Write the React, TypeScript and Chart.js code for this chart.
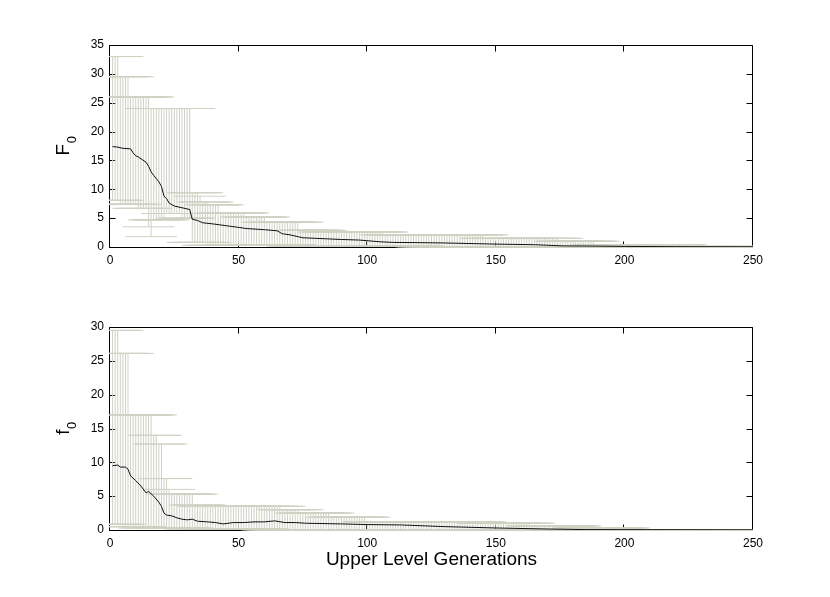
import React, { useEffect, useRef } from 'react';
import { Chart, registerables } from 'chart.js';
Chart.register(...registerables);

const FONT = "'Liberation Sans', Arial, Helvetica, sans-serif";
const GENERATIONS = 250;
const X_TICKS = [0, 50, 100, 150, 200, 250];
const BAR_HALF_WIDTH = 10; // cap half-width in generations
const BAR_COLOR = 'rgb(206,210,195)';

// ---------- Top panel: F0 ----------
const F_Y_TICKS = [0, 5, 10, 15, 20, 25, 30, 35];
const F_MEAN_GEN = [1, 3, 5, 8, 9, 10, 11, 14, 15, 16, 17, 19, 20, 21, 22, 23, 25, 28, 31, 32, 34, 36, 40, 45, 50, 53, 60, 65, 67, 70, 73, 75, 80, 90, 97, 105, 110, 130, 150, 165, 176, 190, 200, 220, 250];
const F_MEAN = [17.4, 17.3, 17.1, 17.0, 16.3, 15.8, 15.6, 14.7, 14.0, 13.0, 12.4, 11.3, 10.5, 8.8, 8.4, 7.6, 7.1, 6.8, 6.5, 4.8, 4.6, 4.2, 4.0, 3.7, 3.4, 3.2, 3.0, 2.8, 2.3, 2.1, 1.8, 1.6, 1.5, 1.3, 1.2, 0.9, 0.8, 0.7, 0.5, 0.4, 0.2, 0.15, 0.1, 0.06, 0.04];
// runs: last generation of each run and its value
const F_MAX_END = [3, 7, 15, 31, 34, 35, 38, 42, 52, 60, 73, 82, 106, 145, 174, 188, 222, 250];
const F_MAX_VAL = [33, 29.5, 26, 24, 9.4, 8.8, 7.8, 7.3, 5.9, 5.2, 4.3, 2.9, 2.6, 2.1, 1.5, 1.0, 0.4, 0.1];
const F_MIN_END = [3, 10, 14, 15, 16, 21, 27, 31, 37, 45, 70, 120, 250];
const F_MIN_VAL = [8.1, 7.4, 6.7, 3.5, 1.8, 4.7, 5.8, 5.0, 0.8, 0.3, 0.4, 0.15, 0.03];

// ---------- Bottom panel: f0 ----------
const f_Y_TICKS = [0, 5, 10, 15, 20, 25, 30];
const f_MEAN_GEN = [1, 3, 4, 6, 7, 8, 10, 12, 14, 15, 17, 19, 20, 21, 22, 24, 26, 28, 30, 32, 34, 38, 41, 44, 48, 52, 56, 60, 64, 68, 72, 76, 90, 100, 113, 130, 150, 170, 185, 250];
const f_MEAN = [9.5, 9.6, 9.3, 9.3, 9.0, 8.0, 7.3, 6.5, 5.5, 5.7, 5.0, 4.1, 3.5, 2.5, 2.2, 2.1, 1.8, 1.6, 1.5, 1.6, 1.3, 1.2, 1.1, 0.9, 1.1, 1.1, 1.2, 1.2, 1.35, 1.1, 1.1, 1.0, 0.9, 0.8, 0.75, 0.5, 0.3, 0.15, 0.06, 0.03];
const f_MAX_END = [3, 7, 16, 18, 20, 22, 23, 32, 35, 66, 73, 85, 99, 144, 163, 181, 200, 250];
const f_MAX_VAL = [29.5, 26.1, 17.0, 14.0, 12.7, 7.6, 6.0, 5.3, 3.7, 3.5, 3.0, 2.5, 1.9, 1.2, 1.0, 0.6, 0.3, 0.05];
const f_MIN_END = [4, 12, 30, 60, 250];
const f_MIN_VAL = [0.85, 0.5, 0.3, 0.15, 0.02];

function expandRuns(ends: number[], vals: number[]): number[] {
  const out: number[] = [];
  let r = 0;
  for (let g = 1; g <= GENERATIONS; g++) {
    while (r < ends.length - 1 && g > ends[r]) r++;
    out.push(vals[r]);
  }
  return out;
}

type PanelProps = {
  top: number;
  height: number;
  padTop: number;
  xAxisH: number;
  meanGen: number[];
  mean: number[];
  maxEnd: number[];
  maxVal: number[];
  minEnd: number[];
  minVal: number[];
  yTicks: number[];
  main: string;
  sub: string;
  xTitle?: string;
  xTitleBaseline?: number;
};

function Panel(p: PanelProps) {
  const ref = useRef<HTMLCanvasElement>(null);
  useEffect(() => {
    const canvas = ref.current!;
    const hi = expandRuns(p.maxEnd, p.maxVal);
    const lo = expandRuns(p.minEnd, p.minVal);
    const gens = Array.from({ length: GENERATIONS }, (_, i) => i + 1);

    const decor = {
      id: 'panelDecor',
      beforeDatasetsDraw(chart: any) {
        const { ctx, chartArea: a, scales } = chart;
        const xs = scales.x;
        const ys = scales.y;
        ctx.save();
        ctx.strokeStyle = '#000';
        ctx.lineWidth = 1;
        const L = a.left - 0.5, R = a.right - 0.5, T = a.top + 0.5, B = a.bottom + 0.5;
        ctx.beginPath();
        ctx.rect(L, T, R - L, B - T);
        ctx.stroke();
        const tl = 6;
        ctx.beginPath();
        X_TICKS.forEach((v) => {
          const px = Math.round(xs.getPixelForValue(v)) - 0.5;
          ctx.moveTo(px, B); ctx.lineTo(px, B - tl);
          ctx.moveTo(px, T); ctx.lineTo(px, T + tl);
        });
        p.yTicks.forEach((v) => {
          const py = Math.round(ys.getPixelForValue(v)) + 0.5;
          ctx.moveTo(L, py); ctx.lineTo(L + tl, py);
          ctx.moveTo(R, py); ctx.lineTo(R - tl, py);
        });
        ctx.stroke();

        ctx.beginPath();
        ctx.rect(a.left - 1, a.top, a.right - a.left + 1, a.bottom - a.top + 1);
        ctx.clip();
        ctx.strokeStyle = BAR_COLOR;
        ctx.lineWidth = 1;
        ctx.beginPath();
        gens.forEach((g, i) => {
          const x = xs.getPixelForValue(g);
          const x0 = xs.getPixelForValue(g - BAR_HALF_WIDTH);
          const x1 = xs.getPixelForValue(g + BAR_HALF_WIDTH);
          const yh = ys.getPixelForValue(hi[i]);
          const yl = ys.getPixelForValue(lo[i]);
          ctx.moveTo(x, yl); ctx.lineTo(x, yh);
          ctx.moveTo(x0, yh); ctx.lineTo(x1, yh);
          ctx.moveTo(x0, yl); ctx.lineTo(x1, yl);
        });
        ctx.stroke();
        ctx.restore();
      },
      afterDraw(chart: any) {
        const { ctx, chartArea: a } = chart;
        ctx.save();
        ctx.fillStyle = '#000';
        const cy = (a.top + a.bottom) / 2;
        ctx.translate(69, cy);
        ctx.rotate(-Math.PI / 2);
        ctx.font = `19px ${FONT}`;
        const wMain = ctx.measureText(p.main).width;
        ctx.font = `13px ${FONT}`;
        const wSub = ctx.measureText(p.sub).width;
        const start = -(wMain + wSub) / 2;
        ctx.textBaseline = 'alphabetic';
        ctx.textAlign = 'left';
        ctx.font = `19px ${FONT}`;
        ctx.fillText(p.main, start, 0);
        ctx.font = `13px ${FONT}`;
        ctx.fillText(p.sub, start + wMain + 0.5, 7);
        ctx.restore();
        if (p.xTitle) {
          ctx.save();
          ctx.fillStyle = '#000';
          ctx.font = `19px ${FONT}`;
          ctx.textAlign = 'center';
          ctx.textBaseline = 'alphabetic';
          ctx.fillText(p.xTitle, (a.left + a.right) / 2, p.xTitleBaseline!);
          ctx.restore();
        }
      },
    };

    const chart = new Chart(canvas, {
      type: 'line',
      data: {
        datasets: [
          {
            data: p.meanGen.map((g, i) => ({ x: g, y: p.mean[i] })),
            borderColor: '#111',
            borderWidth: 1,
            pointRadius: 0,
            tension: 0,
            fill: false,
          },
        ],
      },
      options: {
        animation: false,
        responsive: false,
        events: [],
        layout: { padding: { left: 0, right: 77, top: p.padTop, bottom: 0 } },
        plugins: { legend: { display: false }, tooltip: { enabled: false } },
        scales: {
          x: {
            type: 'linear',
            min: 0,
            max: 250,
            afterBuildTicks: (s: any) => {
              s.ticks = X_TICKS.map((v) => ({ value: v }));
            },
            afterFit: (s: any) => {
              s.height = p.xAxisH;
            },
            grid: { display: false, drawTicks: false },
            border: { display: false },
            ticks: { color: '#000', font: { family: FONT, size: 12 }, padding: 6, maxRotation: 0, autoSkip: false },
          },
          y: {
            type: 'linear',
            min: 0,
            max: p.yTicks[p.yTicks.length - 1],
            afterBuildTicks: (s: any) => {
              s.ticks = p.yTicks.map((v) => ({ value: v }));
            },
            afterFit: (s: any) => {
              s.width = 110;
            },
            grid: { display: false, drawTicks: false },
            border: { display: false },
            ticks: { color: '#000', font: { family: FONT, size: 12 }, padding: 6, autoSkip: false },
          },
        },
      } as any,
      plugins: [decor],
    });
    return () => chart.destroy();
  }, []);
  return (
    <canvas
      ref={ref}
      width={830}
      height={p.height}
      style={{ position: 'absolute', left: 0, top: p.top, width: 830, height: p.height }}
    />
  );
}

export default function App() {
  return (
    <div style={{ position: 'absolute', left: 0, top: 0, width: 830, height: 597, background: '#fff' }}>
      <Panel
        top={0}
        height={285}
        padTop={45}
        xAxisH={38}
        meanGen={F_MEAN_GEN}
        mean={F_MEAN}
        maxEnd={F_MAX_END}
        maxVal={F_MAX_VAL}
        minEnd={F_MIN_END}
        minVal={F_MIN_VAL}
        yTicks={F_Y_TICKS}
        main="F"
        sub="0"
      />
      <Panel
        top={285}
        height={312}
        padTop={42}
        xAxisH={67}
        meanGen={f_MEAN_GEN}
        mean={f_MEAN}
        maxEnd={f_MAX_END}
        maxVal={f_MAX_VAL}
        minEnd={f_MIN_END}
        minVal={f_MIN_VAL}
        yTicks={f_Y_TICKS}
        main="f"
        sub="0"
        xTitle="Upper Level Generations"
        xTitleBaseline={280}
      />
    </div>
  );
}
